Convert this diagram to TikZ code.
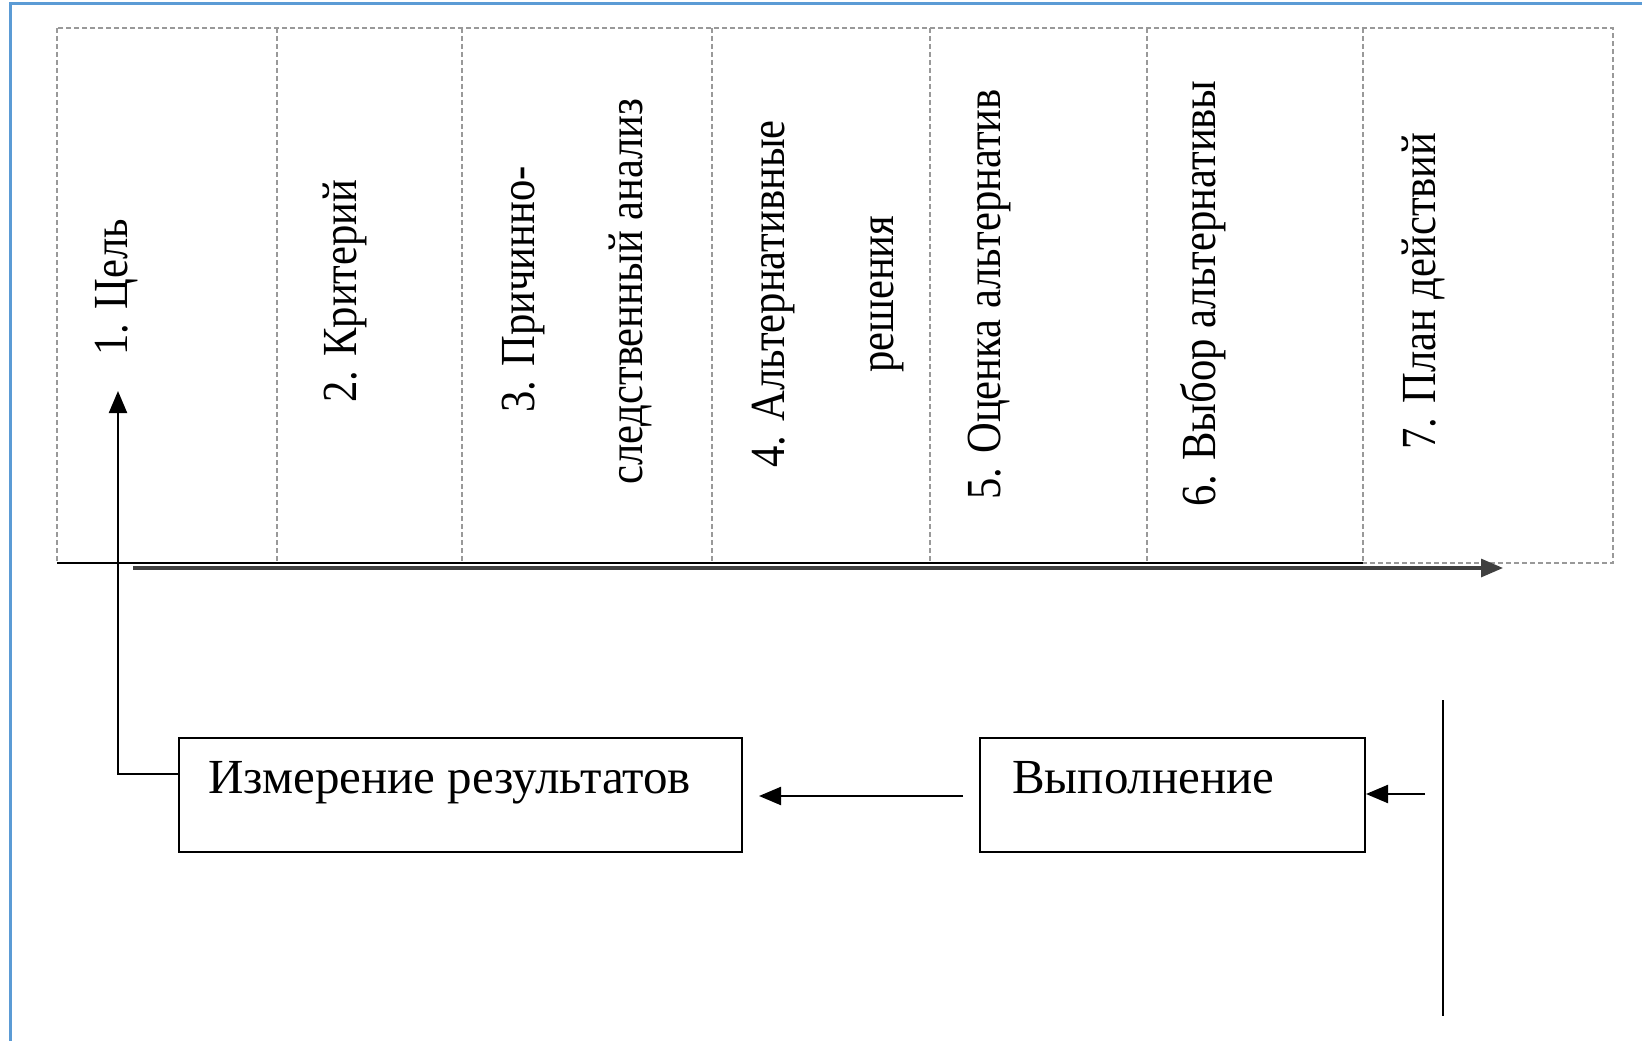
\documentclass[tikz,border=0pt]{standalone}
\usepackage{fontspec}
\setmainfont{Liberation Serif}
\usetikzlibrary{arrows.meta}

% stage labels are set slightly condensed along the reading direction
\newcommand{\narrowlbl}[1]{\scalebox{0.87}[1]{#1}}

\begin{document}
\begin{tikzpicture}[x=1pt,y=-1pt,
  every node/.style={font=\fontsize{49}{56}\selectfont, inner sep=0pt},
  colline/.style={draw=gray!80, line width=1.3pt, dash pattern=on 5pt off 3pt},
  steplabel/.style={rotate=90, anchor=base west},
  procbox/.style={draw=black, line width=2pt, minimum height=114pt, anchor=north west},
  conn/.style={draw=black, line width=2.2pt},
  tip/.style={-{Triangle[length=22pt,width=18pt]}}
]
\useasboundingbox (0,0) rectangle (1642,1041);

% frame edges
\draw[draw={rgb,255:red,91;green,155;blue,213}, line width=3pt] (10,1041) -- (10,4) -- (1642,4);

% stage columns
\draw[colline] (57,28) rectangle (1613,563);
\foreach \xx in {277,462,712,930,1147,1363}
  \draw[colline] (\xx,28) -- (\xx,563);

% stage labels
\node[steplabel] (s1)  at (127,356) {\narrowlbl{1. Цель}};
\node[steplabel] (s2)  at (356,403) {\narrowlbl{2. Критерий}};
\node[steplabel] (s3a) at (534,413) {\narrowlbl{3. Причинно-}};
\node[steplabel] (s3b) at (642,485) {\narrowlbl{следственный анализ}};
\node[steplabel] (s4a) at (784,468) {\narrowlbl{4. Альтернативные}};
\node[steplabel] (s4b) at (893,373) {\narrowlbl{решения}};
\node[steplabel] (s5)  at (1000,500) {\narrowlbl{5. Оценка альтернатив}};
\node[steplabel] (s6)  at (1215,507) {\narrowlbl{6. Выбор альтернативы}};
\node[steplabel] (s7)  at (1435,450) {\narrowlbl{7. План действий}};

% time axis
\coordinate (ax0) at (57,563);
\coordinate (ax1) at (1363,563);
\coordinate (ar0) at (133,568);
\coordinate (ar1) at (1503,568);
\draw[conn, line width=2pt] (ax0) -- (ax1);
\draw[draw=black!75, line width=3.2pt, tip] (ar0) -- (ar1);

% process boxes
\node[procbox, minimum width=563pt] (meas) at (178,737) {};
\node[anchor=base west] (meast) at (208,793) {Измерение результатов};
\node[procbox, minimum width=385pt] (exec) at (979,737) {};
\node[anchor=base west] (exect) at (1012,793) {Выполнение};

% execution input
\coordinate (in0) at (1443,700);
\coordinate (in1) at (1443,1016);
\coordinate (inA) at (1425,794);
\draw[conn] (in0) -- (in1);
\draw[conn, tip] (inA) -- (exec.east |- inA);

% execution to measurement
\coordinate (mid) at (963,796);
\draw[conn, tip] (mid) -- (759,796);

% feedback to goal
\coordinate (fb) at (118,774);
\coordinate (goal) at (118,391);
\draw[conn, tip] (meas.west |- fb) -- (fb) -- (goal);
\end{tikzpicture}
\end{document}
